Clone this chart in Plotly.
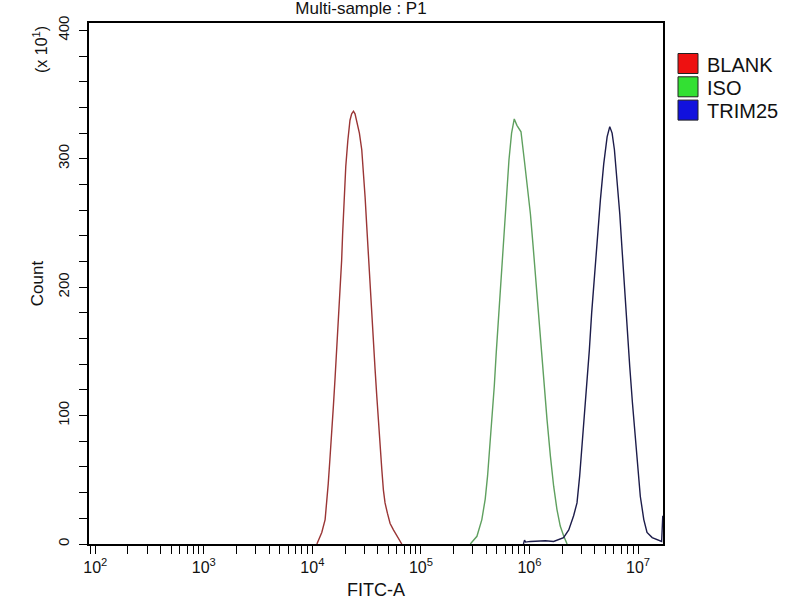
import plotly.graph_objects as go

# FITC-A intensity vs count (count axis shown in units of x10)
blank_fitc = [1.10e4, 1.22e4, 1.31e4, 1.36e4, 1.40e4, 1.45e4, 1.51e4, 1.56e4, 1.62e4, 1.68e4,
              1.74e4, 1.80e4, 1.86e4, 1.90e4, 1.96e4, 2.03e4, 2.12e4, 2.22e4, 2.30e4, 2.39e4,
              2.47e4, 2.60e4, 2.71e4, 2.85e4, 2.95e4, 3.06e4, 3.17e4, 3.28e4, 3.40e4, 3.52e4,
              3.65e4, 3.78e4, 3.92e4, 4.06e4, 4.20e4, 4.36e4, 4.51e4, 4.67e4, 4.91e4, 5.20e4,
              5.58e4, 5.99e4, 6.66e4]
blank_count = [0, 9, 19, 32, 47, 66, 86, 107, 130, 154,
               174, 195, 221, 242, 268, 294, 314, 330, 335, 337,
               335, 327, 320, 307, 291, 270, 247, 224, 200, 177,
               156, 136, 115, 94, 73, 58, 42, 32, 24, 16,
               11, 7, 0]

iso_fitc = [2.85e5, 3.28e5, 3.64e5, 3.91e5, 4.11e5, 4.29e5, 4.51e5, 4.74e5, 4.94e5, 5.19e5,
            5.46e5, 5.77e5, 6.11e5, 6.47e5, 6.84e5, 7.24e5, 7.66e5, 8.35e5, 8.96e5, 9.61e5,
            1.02e6, 1.08e6, 1.14e6, 1.21e6, 1.28e6, 1.35e6, 1.45e6, 1.56e6, 1.67e6, 1.79e6,
            1.92e6, 2.07e6, 2.22e6]
iso_count = [0, 6, 19, 35, 53, 73, 97, 123, 149, 177,
             206, 237, 268, 299, 320, 331, 326, 321, 299, 278,
             257, 232, 206, 180, 154, 128, 97, 68, 45, 27,
             14, 6, 0]

trim_fitc = [8.8e5, 9.0e5, 9.2e5, 1.02e6, 1.40e6, 1.67e6, 2.06e6, 2.30e6, 2.55e6, 2.74e6,
             2.90e6, 3.05e6, 3.20e6, 3.39e6, 3.56e6, 3.74e6, 3.96e6, 4.19e6, 4.50e6, 4.83e6,
             5.19e6, 5.49e6, 5.77e6, 6.06e6, 6.41e6, 6.79e6, 7.13e6, 7.49e6, 7.93e6, 8.39e6,
             8.88e6, 9.40e6, 9.95e6, 1.05e7, 1.13e7, 1.21e7, 1.35e7, 1.55e7, 1.65e7, 1.69e7]
trim_count = [0, 3, 1.5, 2, 2.5, 2, 5, 11, 22, 32,
              53, 76, 99, 125, 151, 180, 208, 237, 268, 296,
              317, 325, 320, 307, 283, 257, 229, 200, 169, 138,
              110, 84, 58, 37, 19, 9, 5, 3, 2, 22]

names = ["BLANK", "ISO", "TRIM25"]
line_colors = ["#9a3535", "#5fa05f", "#1c1c4a"]
legend_colors = ["#ee1111", "#33e033", "#1111dd"]

decades = [2, 3, 4, 5, 6, 7]
x_tickvals = []
x_ticktext = []
for d in [1] + decades:
    for m in range(1, 10):
        v = m * 10 ** d
        if v < 80 or v > 1.7e7:
            continue
        x_tickvals.append(v)
        x_ticktext.append(f"10<sup>{d}</sup>" if m == 1 and d in decades else "")

W, H = 800, 600
L, R, T, B = 89, 137, 23, 56
pw, ph = W - L - R, H - T - B


def px2paper(x, y):
    return (x - L) / pw, (H - B - y) / ph


fig = go.Figure()
for fx, cy, col, n in zip([blank_fitc, iso_fitc, trim_fitc],
                          [blank_count, iso_count, trim_count], line_colors, names):
    fig.add_trace(go.Scatter(x=fx, y=cy, mode="lines", name=n, showlegend=False,
                             line=dict(color=col, width=1.4)))

# legend drawn as swatches + labels so the spacing matches the original
for i, (n, c) in enumerate(zip(names, legend_colors)):
    cy_px = 63.5 + i * 23.3
    x0, y0 = px2paper(678, cy_px + 10)
    x1, y1 = px2paper(698, cy_px - 10)
    fig.add_shape(type="rect", xref="paper", yref="paper", x0=x0, y0=y0, x1=x1, y1=y1,
                  fillcolor=c, line=dict(color="#222", width=1))
    tx, ty = px2paper(705, cy_px + 1)
    fig.add_annotation(text=n, xref="paper", yref="paper", x=tx, y=ty,
                       xanchor="left", yanchor="middle", showarrow=False,
                       font=dict(size=20))

fig.update_layout(
    width=W, height=H, autosize=False,
    paper_bgcolor="white", plot_bgcolor="white",
    margin=dict(l=L, r=R, t=T, b=B),
    font=dict(family="Liberation Sans, Arial", size=16, color="#111"),
    title=dict(text="Multi-sample : P1", x=361 / W, xanchor="center",
               y=1 - 8 / H, yanchor="middle", font=dict(size=17)),
    showlegend=False,
    xaxis=dict(type="log", range=[1.942, 7.23], showgrid=False, zeroline=False,
               showline=True, linecolor="black", linewidth=1.5, mirror=True,
               tickmode="array", tickvals=x_tickvals, ticktext=x_ticktext,
               ticks="outside", ticklen=8, tickcolor="black", tickfont=dict(size=16),
               automargin=False,
               title=dict(text="FITC-A", standoff=9, font=dict(size=18))),
    yaxis=dict(range=[0, 405.7], showgrid=False, zeroline=False,
               showline=True, linecolor="black", linewidth=1.5, mirror=True,
               tickmode="array", tickvals=[0, 100, 200, 300, 400],
               ticks="outside", ticklen=8, tickcolor="black", tickangle=-90,
               tickfont=dict(size=15), ticklabelstandoff=4, automargin=False,
               minor=dict(dtick=20, ticks="outside", ticklen=8, tickcolor="black"),
               title=dict(text="Count", standoff=7, font=dict(size=17))),
)

ax, ay = px2paper(40, 49)
fig.add_annotation(text="(x 10<sup>1</sup>)", xref="paper", yref="paper",
                   x=ax, y=ay, textangle=-90, showarrow=False,
                   xanchor="center", yanchor="middle", font=dict(size=16))

# drop the default page margin so the figure sits at the window's corner
fig.write_html("out.html", config={"displayModeBar": False},
               post_script="document.body.style.margin='0';")
